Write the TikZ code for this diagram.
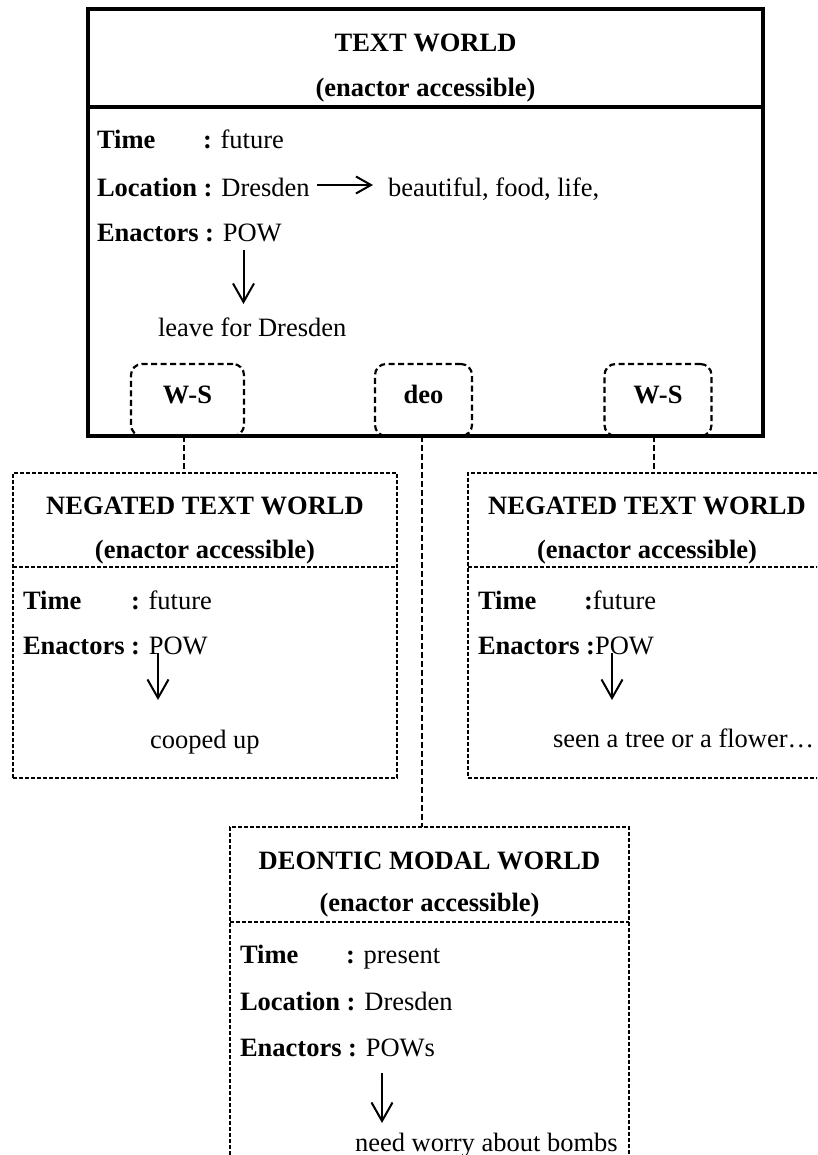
\documentclass[tikz,border=0pt]{standalone}
\usepackage{fontspec}
\setmainfont{Liberation Serif}
\usetikzlibrary{arrows.meta}
\begin{document}
\begin{tikzpicture}[x=1pt,y=-1pt,
  every node/.style={inner sep=0pt,outer sep=0pt,font=\fontsize{26.5}{30}\selectfont},
  txt/.style={anchor=base west},
  ttl/.style={anchor=base,font=\fontsize{26.5}{30}\selectfont\bfseries},
  mainbox/.style={draw,line width=4pt},
  worldbox/.style={draw,line width=1.6pt,dash pattern=on 4pt off 2pt},
  opbox/.style={draw,line width=2.2pt,dash pattern=on 6pt off 3.5pt,rounded corners=11pt},
  conn/.style={line width=2pt,dash pattern=on 6pt off 3pt},
  arr/.style={line width=2pt,-{Straight Barb[length=18.5pt,width=21pt]}},
  harr/.style={line width=2pt,-{Straight Barb[length=15pt,width=17pt]}},
]
\useasboundingbox (0,0) rectangle (817,1155);
\clip (0,0) rectangle (817,1155);

% operator boxes (drawn first, main box border goes over them)
\node[opbox,minimum width=113,minimum height=72] (ws1) at (187.5,400) {};
\node[opbox,minimum width=97,minimum height=72] (deo) at (423.5,400) {};
\node[opbox,minimum width=107,minimum height=72] (ws2) at (658,400) {};
\node[ttl] (ws1l) at (187.5,403) {W-S};
\node[ttl] (deol) at (423.5,403) {deo};
\node[ttl] (ws2l) at (658,403) {W-S};

% main text world box
\node[mainbox,minimum width=675,minimum height=427] (tw) at (425.5,222.5) {};
\draw[line width=4pt] (88,107) -- (763,107);
\node[ttl] (twt) at (425.5,52) {TEXT WORLD};
\node[ttl] (twa) at (425.5,97) {(enactor accessible)};
\node[txt] (tw1) at (97,149) {\textbf{Time}};
\node[txt] (tw1v) at (203,149) {\textbf{:} future};
\node[txt] (tw2) at (97,196.5) {\textbf{Location :} Dresden};
\node[txt] (tw2v) at (388,196.5) {beautiful, food, life,};
\node[txt] (tw3) at (97,241.5) {\textbf{Enactors :} POW};
\node[txt] (tw4) at (158,336.5) {leave for Dresden};
\coordinate (h1a) at (317,185);
\coordinate (h1b) at (373,185);
\draw[harr] (h1a) -- (h1b);
\coordinate (d1a) at (243.5,250);
\coordinate (d1b) at (243.5,304);
\draw[arr] (d1a) -- (d1b);

% negated world (left)
\node[worldbox,minimum width=384,minimum height=305] (neg1) at (205,625.5) {};
\draw[worldbox] (13,567) -- (397,567);
\node[ttl] (n1t) at (205,514) {NEGATED TEXT WORLD};
\node[ttl] (n1a) at (205,558) {(enactor accessible)};
\node[txt] (n11) at (23,609) {\textbf{Time}};
\node[txt] (n11v) at (131,609) {\textbf{:} future};
\node[txt] (n12) at (23,654) {\textbf{Enactors :} POW};
\node[txt] (n13) at (150,748) {cooped up};
\coordinate (d2a) at (158,653);
\coordinate (d2b) at (158,700);
\draw[arr] (d2a) -- (d2b);

% negated world (right)
\node[worldbox,minimum width=358,minimum height=305] (neg2) at (647,625.5) {};
\draw[worldbox] (468,567) -- (826,567);
\node[ttl] (n2t) at (647,514) {NEGATED TEXT WORLD};
\node[ttl] (n2a) at (647,558) {(enactor accessible)};
\node[txt] (n21) at (478,609) {\textbf{Time}};
\node[txt] (n21v) at (584,609) {\textbf{:}future};
\node[txt] (n22) at (478,654) {\textbf{Enactors :}POW};
\node[txt] (n23) at (553,747.5) {seen a tree or a flower…};
\coordinate (d3a) at (612,653);
\coordinate (d3b) at (612,700);
\draw[arr] (d3a) -- (d3b);

% deontic modal world
\node[worldbox,minimum width=399,minimum height=420] (deon) at (429.5,1037) {};
\draw[worldbox] (230,922) -- (629,922);
\node[ttl] (dmt) at (429.5,869) {DEONTIC MODAL WORLD};
\node[ttl] (dma) at (429.5,911) {(enactor accessible)};
\node[txt] (dm1) at (240,963) {\textbf{Time}};
\node[txt] (dm1v) at (346,963) {\textbf{:} present};
\node[txt] (dm2) at (240,1010) {\textbf{Location :} Dresden};
\node[txt] (dm3) at (240,1056) {\textbf{Enactors :} POWs};
\node[txt] (dm4) at (355,1151) {need worry about bombs};
\coordinate (d4a) at (382,1073);
\coordinate (d4b) at (382,1123);
\draw[arr] (d4a) -- (d4b);

% connectors
\coordinate (c1) at ([xshift=-4pt]ws1.south);
\coordinate (c2) at ([xshift=-1.5pt]deo.south);
\coordinate (c3) at ([xshift=-4pt]ws2.south);
\draw[conn] (c1) -- (c1 |- neg1.north);
\draw[conn] (c2) -- (c2 |- deon.north);
\draw[conn] (c3) -- (c3 |- neg2.north);
\end{tikzpicture}
\end{document}
